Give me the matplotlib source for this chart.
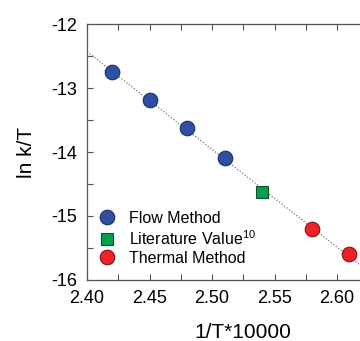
import numpy as np
import matplotlib.pyplot as plt
from matplotlib.ticker import MultipleLocator, FixedLocator

plt.rcParams['font.family'] = ['Liberation Sans', 'DejaVu Sans']
plt.rcParams['mathtext.fontset'] = 'custom'
plt.rcParams['mathtext.rm'] = 'Liberation Sans'
plt.rcParams['axes.unicode_minus'] = False

# data
flow_x = [2.42, 2.45, 2.48, 2.51]
flow_y = [-12.75, -13.18, -13.63, -14.10]
lit_x = [2.54]
lit_y = [-14.63]
thermal_x = [2.58, 2.61]
thermal_y = [-15.20, -15.60]
xticks = [2.40, 2.45, 2.50, 2.55, 2.60]

all_x = np.array(flow_x + lit_x + thermal_x)
all_y = np.array(flow_y + lit_y + thermal_y)
slope, icpt = np.polyfit(all_x, all_y, 1)

fig = plt.figure(figsize=(3.6, 3.41), dpi=100)
ax = fig.add_axes([0.2417, 0.1789, 0.868, 0.7507])

xl = np.array([2.40, 2.65])
ax.plot(xl, slope * xl + icpt, linestyle=(0, (1, 1.5)), color='#777777', lw=0.9, zorder=1)

ax.plot(flow_x, flow_y, 'o', ms=10.5, mfc='#2F4FA3', mec='#1E2F66', mew=0.8, label='Flow Method', zorder=3)
ax.plot(lit_x, lit_y, 's', ms=9, mfc='#00A04E', mec='#10502A', mew=0.8, label='Literature Value$^{10}$', zorder=3)
ax.plot(thermal_x, thermal_y, 'o', ms=10.5, mfc='#EE2028', mec='#7A1515', mew=0.8, label='Thermal Method', zorder=3)

ax.set_xlim(2.40, 2.65)
ax.set_ylim(-16, -12)
ax.xaxis.set_major_locator(FixedLocator(xticks))
ax.xaxis.set_minor_locator(MultipleLocator(0.025))
ax.yaxis.set_major_locator(MultipleLocator(1))
ax.yaxis.set_minor_locator(MultipleLocator(0.5))
ax.xaxis.set_major_formatter(plt.FormatStrFormatter('%.2f'))

for sp in ax.spines.values():
    sp.set_color('#555555')
    sp.set_linewidth(0.9)

ax.tick_params(which='both', direction='in', top=True, right=False, length=4,
               width=0.8, color='#555555', labelsize=13, pad=7)

ax.set_xlabel('1/T*10000', fontsize=15, labelpad=12)
ax.set_ylabel('ln k/T', fontsize=15, labelpad=11)

ax.legend(loc='lower left', bbox_to_anchor=(-0.013, 0.012), frameon=False, fontsize=11.5,
          handletextpad=0.6, labelspacing=0.2, borderaxespad=0.3, handlelength=1.6)

fig.savefig('out.png', dpi=100)
